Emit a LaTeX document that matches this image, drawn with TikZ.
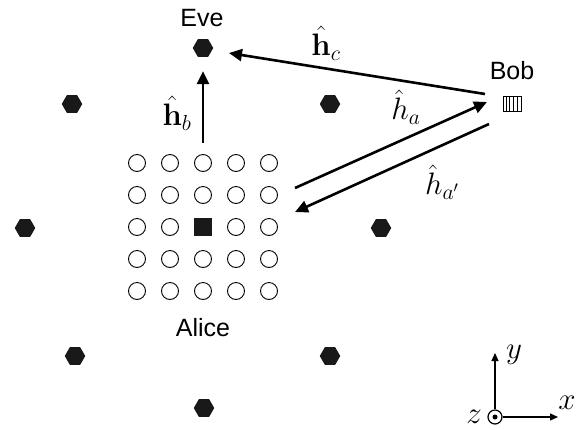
\documentclass[tikz,border=0pt]{standalone}
\usepackage{fix-cm}
\usepackage[no-math]{fontspec}
\setmainfont{Liberation Sans}
\usetikzlibrary{arrows.meta,positioning,shapes.geometric,calc}
\begin{document}
\begin{tikzpicture}[x=1pt, y=-1pt,
    hexa/.style={regular polygon, regular polygon sides=6, fill=black!90,
                 minimum size=20.5pt, inner sep=0pt},
    ant/.style={circle, draw, line width=0.9pt, minimum size=17pt, inner sep=0pt},
    alicesq/.style={rectangle, fill=black!90, minimum size=18pt, inner sep=0pt},
    arr/.style={-{Triangle[length=13pt,width=12pt]}, line width=2.6pt},
    axis/.style={-{Triangle[length=8pt,width=7pt]}, line width=1.2pt},
    lbl/.style={font=\fontsize{25}{30}\selectfont},
    mlbl/.style={font=\fontsize{31}{36}\selectfont}
  ]
  \useasboundingbox (0,0) rectangle (578,429);
  % Eavesdropper and surrounding cells
  \node[hexa] (eve) at (203,48) {};
  \foreach \nm/\px/\py in {h1/72/104, h2/330/104, h3/25/228, h4/381/228,
                           h5/75/356, h6/330/356, h7/204/408}
    \node[hexa] (\nm) at (\px,\py) {};
  % Alice's antenna array
  \foreach \i in {0,...,4}
    \foreach \j in {0,...,4} {
      \pgfmathtruncatemacro\mid{(\i==2)*(\j==2)}
      \ifnum\mid=1
        \node[alicesq] (a\i\j) at (137+33*\i,163+32*\j) {};
      \else
        \node[ant] (a\i\j) at (137+33*\i,163+32*\j) {};
      \fi
    }
  % Bob's antenna
  \node[draw, line width=0.9pt, minimum width=18pt, minimum height=15pt,
        inner sep=0pt] (bob) at (512,104) {};
  \foreach \k in {1,...,4}
    \draw[line width=0.9pt] ($(bob.north west)+(3.6*\k,0)$) -- ($(bob.south west)+(3.6*\k,0)$);
  % Names
  \node[lbl] (evelbl) at (202,18) {Eve};
  \node[lbl] (boblbl) at (512,71) {Bob};
  \node[lbl] (alicelbl) at (203,328) {Alice};
  % Channels
  \coordinate (cfrom) at (485,94);
  \coordinate (cto) at (229,53);
  \coordinate (afrom) at (295,188);
  \coordinate (ato) at (487,102);
  \coordinate (apfrom) at (489,124);
  \coordinate (apto) at (295,212);
  \draw[arr] (cfrom) -- (cto);
  \draw[arr, shorten <=11.5pt, shorten >=14pt] (a20.north) -- (eve.south);
  \draw[arr] (afrom) -- (ato);
  \draw[arr] (apfrom) -- (apto);
  \node[mlbl] (lc) at (326,43) {$\hat{\mathbf{h}}_c$};
  \node[mlbl] (lb) at (177,113) {$\hat{\mathbf{h}}_b$};
  \node[mlbl] (la) at (406,107) {$\hat{h}_a$};
  \node[mlbl] (lap) at (442,182) {$\hat{h}_{a'}$};
  % Coordinate axes
  \node[circle, draw, line width=1.2pt, minimum size=14pt, inner sep=0pt] (zax) at (495,417) {};
  \fill (zax.center) circle (2.5pt);
  \coordinate (xtip) at (558,417);
  \coordinate (ytip) at (495,353);
  \draw[axis] (zax.east) -- (xtip);
  \draw[axis] (zax.north) -- (ytip);
  \node[mlbl] (xl) at (567,403) {$x$};
  \node[mlbl] (yl) at (514,355) {$y$};
  \node[mlbl] (zl) at (474,417) {$z$};
\end{tikzpicture}
\end{document}
